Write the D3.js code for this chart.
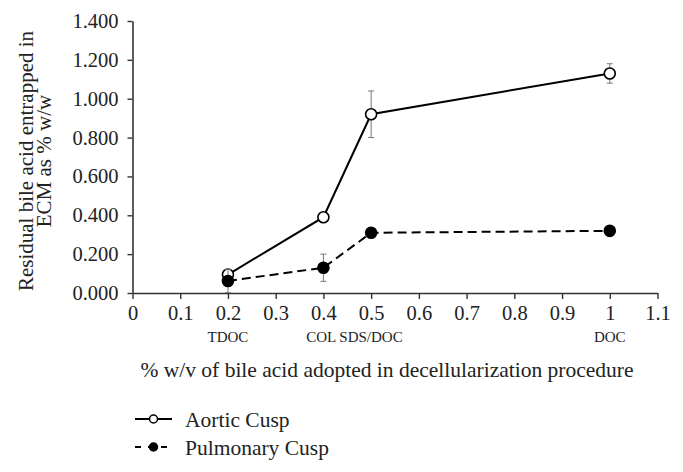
<!DOCTYPE html>
<html>
<head>
<meta charset="utf-8">
<script src="https://cdn.jsdelivr.net/npm/d3@7"></script>
<style>
  body { margin: 0; background: #fff; }
  svg text { font-family: "Liberation Serif", "Times New Roman", serif !important; }
</style>
</head>
<body>
<div class="chart"></div>
<script>
// data
var xValues = [0.2, 0.4, 0.5, 1.0];
var aorticMean = [0.095, 0.39, 0.92, 1.13];
var aorticErr = [0.02, 0.015, 0.12, 0.05];
var pulmonaryMean = [0.062, 0.13, 0.31, 0.32];
var pulmonaryErr = [0.06, 0.07, 0.01, 0.01];
var procedureLabels = ["TDOC", "COL SDS/DOC", "DOC"];
var procedureX = [0.2, 0.4, 1.0];
var yTicks = [0, 0.2, 0.4, 0.6, 0.8, 1.0, 1.2, 1.4];
var xTicks = [0, 0.1, 0.2, 0.3, 0.4, 0.5, 0.6, 0.7, 0.8, 0.9, 1.0, 1.1];

var svgWidth = 683, svgHeight = 472;
var margin = { top: 21, left: 132.5, right: 25.5, bottom: 179 };
var width = svgWidth - margin.left - margin.right;
var height = svgHeight - margin.top - margin.bottom;

var svg = d3.select(".chart").append("svg")
  .attr("width", svgWidth)
  .attr("height", svgHeight);

var chartGroup = svg.append("g")
  .attr("transform", `translate(${margin.left}, ${margin.top})`);

var xScale = d3.scaleLinear().domain([0, 1.1]).range([0, width]);
var yScale = d3.scaleLinear().domain([0, 1.4]).range([height, 0]);

// axes
var xAxis = d3.axisBottom(xScale).tickValues(xTicks)
  .tickSize(6).tickPadding(6).tickSizeOuter(0)
  .tickFormat(d => d3.format("")(+d.toFixed(1)));
var yAxis = d3.axisLeft(yScale).tickValues(yTicks)
  .tickSize(5).tickPadding(9).tickSizeOuter(0)
  .tickFormat(d3.format(".3f"));

var gx = chartGroup.append("g")
  .attr("transform", `translate(0, ${height})`)
  .call(xAxis);
var gy = chartGroup.append("g").call(yAxis);

[gx, gy].forEach(function(g) {
  g.attr("font-family", null).attr("font-size", null);
  g.select(".domain").attr("stroke", "#333").attr("stroke-width", 1.6);
  g.selectAll(".tick line").attr("stroke", "#333").attr("stroke-width", 1.4);
  g.selectAll(".tick text").attr("font-size", 20.5).attr("fill", "#222");
});

// procedure labels under the x axis
chartGroup.selectAll(".proc")
  .data(procedureLabels)
  .enter()
  .append("text")
  .attr("class", "proc")
  .attr("x", (d, i) => xScale(procedureX[i]) + (i === 1 ? 31 : 0))
  .attr("y", height + 49)
  .attr("text-anchor", "middle")
  .attr("font-size", 15)
  .attr("fill", "#222")
  .text(d => d);

// series
var series = [
  { name: "Aortic Cusp", mean: aorticMean, err: aorticErr, fill: "#fff", dash: null },
  { name: "Pulmonary Cusp", mean: pulmonaryMean, err: pulmonaryErr, fill: "#000", dash: "9,5" }
];

series.forEach(function(s) {
  var pts = xValues.map((x, i) => ({ x: x, y: s.mean[i], e: s.err[i] }));

  var line = d3.line().x(d => xScale(d.x)).y(d => yScale(d.y));
  chartGroup.append("path")
    .datum(pts)
    .attr("d", line)
    .attr("fill", "none")
    .attr("stroke", "#000")
    .attr("stroke-width", 2)
    .attr("stroke-dasharray", s.dash);

  // error bars
  var eb = chartGroup.append("g").selectAll("g")
    .data(pts)
    .enter()
    .append("g")
    .attr("stroke", "#777")
    .attr("stroke-width", 1);
  eb.append("line")
    .attr("x1", d => xScale(d.x)).attr("x2", d => xScale(d.x))
    .attr("y1", d => yScale(d.y - d.e)).attr("y2", d => yScale(d.y + d.e));
  eb.append("line")
    .attr("x1", d => xScale(d.x) - 3).attr("x2", d => xScale(d.x) + 3)
    .attr("y1", d => yScale(d.y + d.e)).attr("y2", d => yScale(d.y + d.e));
  eb.append("line")
    .attr("x1", d => xScale(d.x) - 3).attr("x2", d => xScale(d.x) + 3)
    .attr("y1", d => yScale(d.y - d.e)).attr("y2", d => yScale(d.y - d.e));

  chartGroup.append("g").selectAll("circle")
    .data(pts)
    .enter()
    .append("circle")
    .attr("cx", d => xScale(d.x))
    .attr("cy", d => yScale(d.y))
    .attr("r", 5.5)
    .attr("fill", s.fill)
    .attr("stroke", "#000")
    .attr("stroke-width", 1.6);
});

// axis titles
var yTitle = svg.append("text")
  .attr("transform", "translate(33, 161) rotate(-90)")
  .attr("text-anchor", "middle")
  .attr("font-size", 21)
  .attr("fill", "#222");
yTitle.append("tspan").attr("x", 0).attr("y", 0).text("Residual bile acid entrapped in");
yTitle.append("tspan").attr("x", 0).attr("y", 18).text("ECM as % w/w");

svg.append("text")
  .attr("x", 387)
  .attr("y", 377)
  .attr("text-anchor", "middle")
  .attr("font-size", 21.5)
  .attr("fill", "#222")
  .text("% w/v of bile acid adopted in decellularization procedure");

// legend
var legend = svg.append("g").attr("transform", "translate(135, 419)");
series.forEach(function(s, i) {
  var row = legend.append("g").attr("transform", `translate(0, ${i * 28})`);
  row.append("line")
    .attr("x1", 0).attr("x2", 37)
    .attr("stroke", "#000").attr("stroke-width", 2)
    .attr("stroke-dasharray", s.dash ? "6,7" : null);
  row.append("circle")
    .attr("cx", 18.5).attr("r", 4)
    .attr("fill", s.fill).attr("stroke", "#000").attr("stroke-width", 1.5);
  row.append("text")
    .attr("x", 50).attr("y", 0).attr("dy", "0.35em")
    .attr("font-size", 21.5).attr("fill", "#222")
    .text(s.name);
});
</script>
</body>
</html>
